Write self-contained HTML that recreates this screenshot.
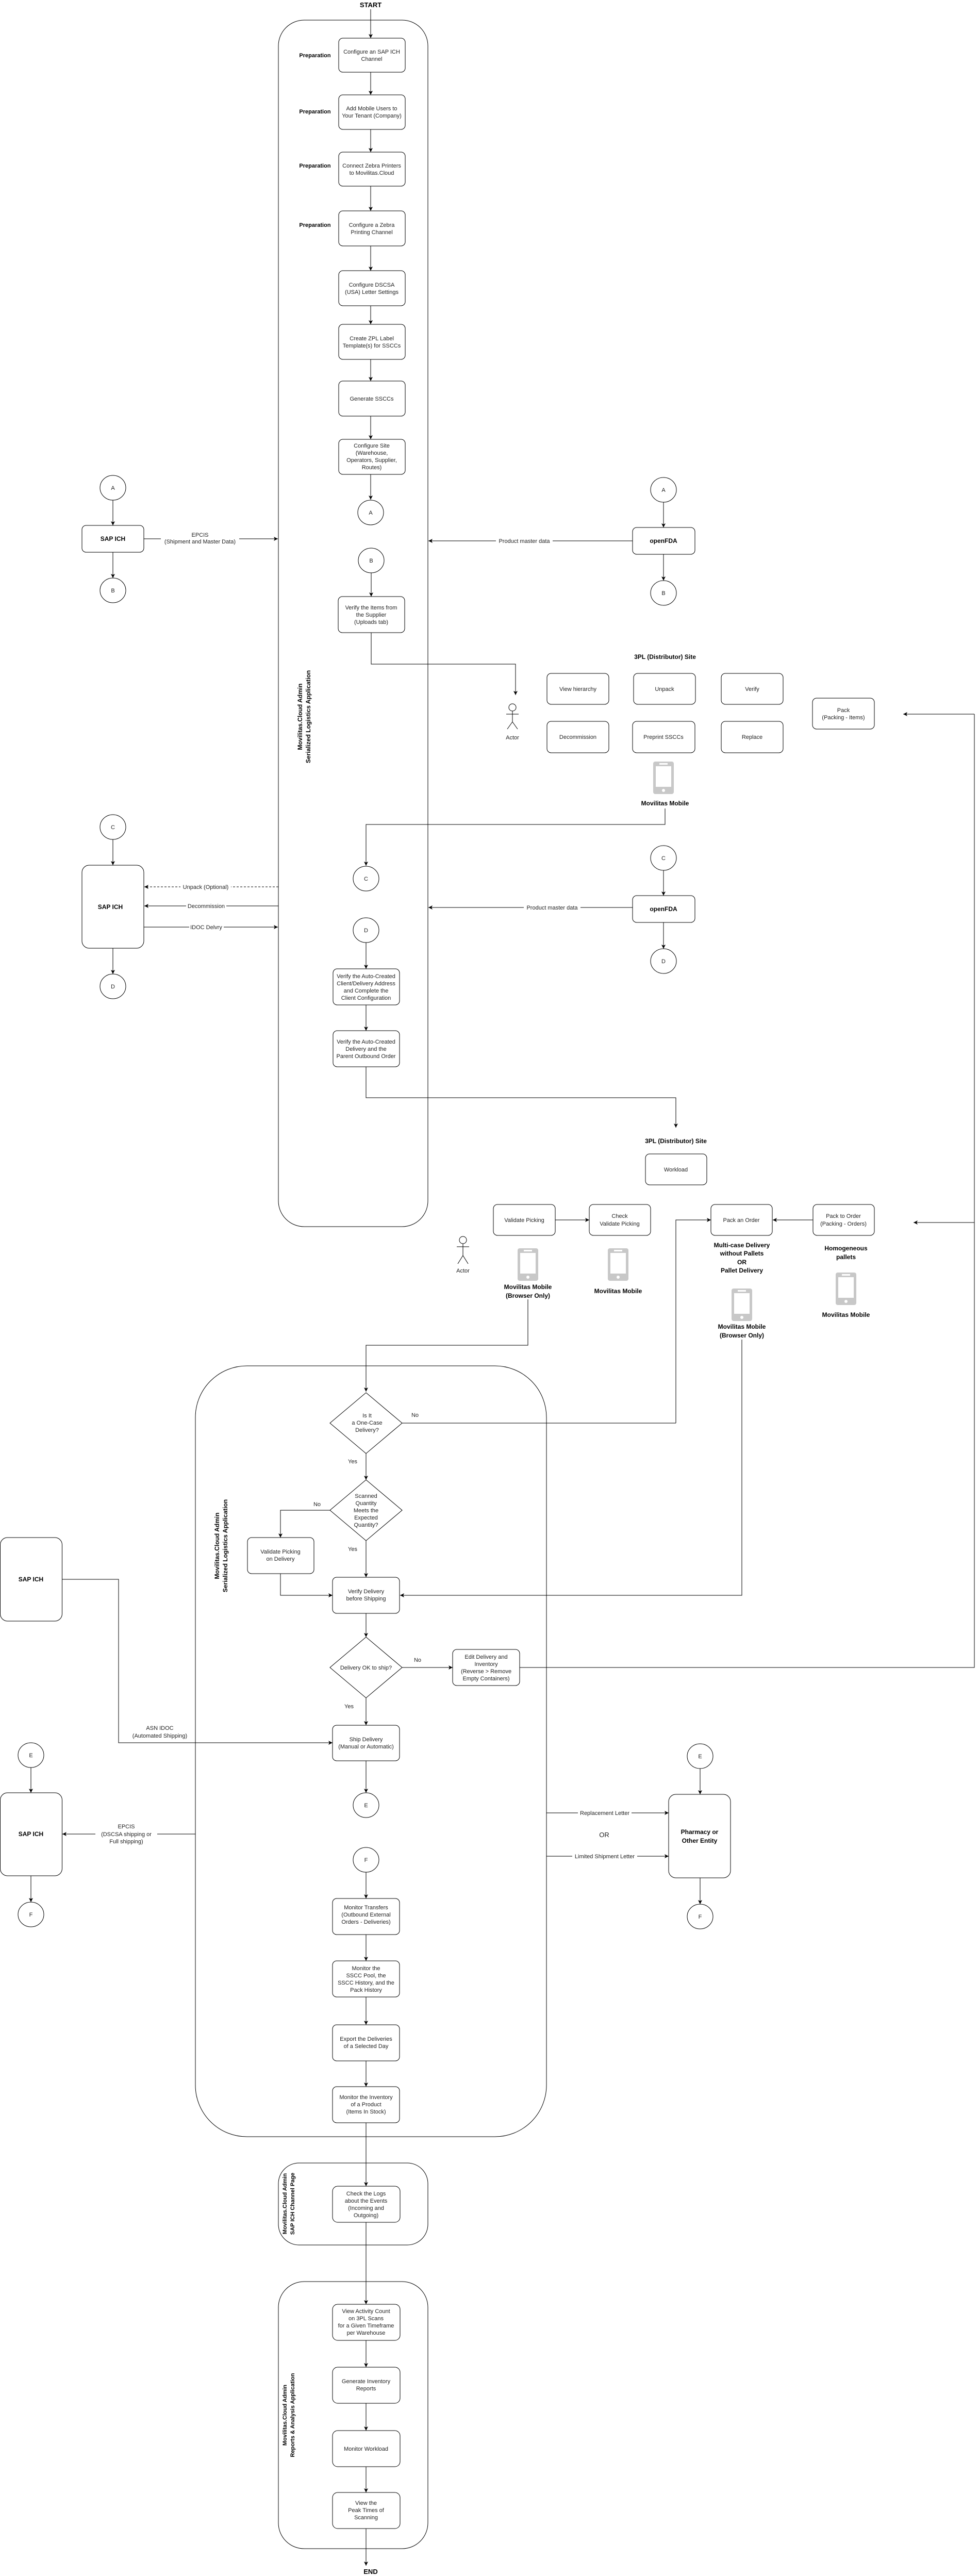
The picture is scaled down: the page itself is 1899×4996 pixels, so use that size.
<!DOCTYPE html>
<html><head><meta charset="utf-8"><style>
html,body{margin:0;padding:0;background:#fff}
svg{display:block}
text{font-family:"Liberation Sans",Arial,sans-serif;font-size:11px;fill:#222}
.b{font-weight:bold;font-size:12px;fill:#000}
.lbl{font-size:11px}
rect.n{fill:#fff;stroke:#000;stroke-width:1}
.l{fill:none;stroke:#000;stroke-width:1}
ellipse{fill:#fff;stroke:#000;stroke-width:1}
</style></head><body>
<svg width="1899" height="4996" viewBox="0 0 1899 4996" xmlns="http://www.w3.org/2000/svg">
<defs><marker id="a" markerWidth="10" markerHeight="10" refX="8" refY="4" orient="auto" markerUnits="userSpaceOnUse"><path d="M0,0 L8,4 L0,8 L2,4 z" fill="#000"/></marker>
<g id="ph"><rect x="-20" y="0" width="40" height="63" rx="4" fill="#c8c8c8"/><rect x="-15" y="9" width="30" height="40" fill="#fff"/><rect x="-8" y="3" width="16" height="3" fill="#fff"/><circle cx="0" cy="56" r="3" fill="#fff"/></g></defs>

<!-- lanes -->
<rect x="540" y="39" width="290" height="2340" rx="50" class="l"/>
<rect x="379" y="2649" width="681" height="1495" rx="100" class="l"/>
<rect x="540" y="4195" width="290" height="159" rx="40" class="l"/>
<rect x="540" y="4425" width="290" height="518" rx="50" class="l"/>

<text class="b" text-anchor="middle" transform="translate(586,1390) rotate(-90)">Movilitas.Cloud Admin</text>
<text class="b" text-anchor="middle" transform="translate(602,1390) rotate(-90)">Serialized Logistics Application</text>
<text class="b" text-anchor="middle" transform="translate(425,2998) rotate(-90)">Movilitas.Cloud Admin</text>
<text class="b" text-anchor="middle" transform="translate(441,2998) rotate(-90)">Serialized Logistics Application</text>
<text class="b" text-anchor="middle" style="font-size:11px" transform="translate(556,4274) rotate(-90)">Movilitas.Cloud Admin</text>
<text class="b" text-anchor="middle" style="font-size:11px" transform="translate(571,4274) rotate(-90)">SAP ICH Channel Page</text>
<text class="b" text-anchor="middle" style="font-size:11px" transform="translate(556,4684) rotate(-90)">Movilitas.Cloud Admin</text>
<text class="b" text-anchor="middle" style="font-size:11px" transform="translate(571,4684) rotate(-90)">Reports &amp; Analysis Application</text>

<text class="b" x="719" y="14" text-anchor="middle" style="font-size:13px">START</text>
<text class="b" x="719" y="4992" text-anchor="middle" style="font-size:13px">END</text>

<!-- top column boxes -->
<g>
<rect class="n" x="657" y="74" width="129" height="66" rx="8"/>
<text x="721" text-anchor="middle"><tspan x="721" y="104">Configure an SAP ICH</tspan><tspan x="721" y="118">Channel</tspan></text>
<rect class="n" x="657" y="184" width="129" height="67" rx="8"/>
<text text-anchor="middle"><tspan x="721" y="214">Add Mobile Users to</tspan><tspan x="721" y="228">Your Tenant (Company)</tspan></text>
<rect class="n" x="657" y="295" width="129" height="66" rx="8"/>
<text text-anchor="middle"><tspan x="721" y="325">Connect Zebra Printers</tspan><tspan x="721" y="339">to Movilitas.Cloud</tspan></text>
<rect class="n" x="657" y="409" width="129" height="68" rx="8"/>
<text text-anchor="middle"><tspan x="721" y="440">Configure a Zebra</tspan><tspan x="721" y="454">Printing Channel</tspan></text>
<rect class="n" x="657" y="525" width="129" height="68" rx="8"/>
<text text-anchor="middle"><tspan x="721" y="556">Configure DSCSA</tspan><tspan x="721" y="570">(USA) Letter Settings</tspan></text>
<rect class="n" x="657" y="629" width="129" height="68" rx="8"/>
<text text-anchor="middle"><tspan x="721" y="660">Create ZPL Label</tspan><tspan x="721" y="674">Template(s) for SSCCs</tspan></text>
<rect class="n" x="657" y="739" width="129" height="68" rx="8"/>
<text x="721" y="777" text-anchor="middle">Generate SSCCs</text>
<rect class="n" x="657" y="852" width="129" height="68" rx="8"/>
<text text-anchor="middle"><tspan x="721" y="868">Configure Site</tspan><tspan x="721" y="882">(Warehouse,</tspan><tspan x="721" y="896">Operators, Supplier,</tspan><tspan x="721" y="910">Routes)</tspan></text>
</g>
<g class="b" text-anchor="middle">
<text class="b" x="611" y="111" text-anchor="middle" style="font-size:11px">Preparation</text>
<text class="b" x="611" y="220" text-anchor="middle" style="font-size:11px">Preparation</text>
<text class="b" x="611" y="325" text-anchor="middle" style="font-size:11px">Preparation</text>
<text class="b" x="611" y="440" text-anchor="middle" style="font-size:11px">Preparation</text>
</g>
<g class="l" marker-end="url(#a)">
<path class="l" marker-end="url(#a)" d="M719,18V74"/>
<path class="l" marker-end="url(#a)" d="M719,140V184"/>
<path class="l" marker-end="url(#a)" d="M719,251V295"/>
<path class="l" marker-end="url(#a)" d="M719,361V409"/>
<path class="l" marker-end="url(#a)" d="M719,477V525"/>
<path class="l" marker-end="url(#a)" d="M719,593V629"/>
<path class="l" marker-end="url(#a)" d="M719,697V739"/>
<path class="l" marker-end="url(#a)" d="M719,807V852"/>
<path class="l" marker-end="url(#a)" d="M719,920V969"/>
</g>
<ellipse cx="719" cy="994" rx="25" ry="24"/><text x="719" y="998" text-anchor="middle">A</text>
<ellipse cx="720" cy="1087" rx="25" ry="24"/><text x="720" y="1091" text-anchor="middle">B</text>
<path class="l" marker-end="url(#a)" d="M720,1111V1157"/>
<rect class="n" x="656" y="1157" width="129" height="70" rx="8"/>
<text text-anchor="middle"><tspan x="720" y="1182">Verify the Items from</tspan><tspan x="720" y="1196">the Supplier</tspan><tspan x="720" y="1210">(Uploads tab)</tspan></text>
<path class="l" marker-end="url(#a)" d="M720,1227V1288H1000V1348"/>
<!-- actor1 -->
<g class="l"><circle cx="994" cy="1372" r="7"/><path d="M994,1379V1400M982,1385H1006M994,1400L984,1414M994,1400L1004,1414"/></g>
<text x="994" y="1434" text-anchor="middle">Actor</text>

<!-- left SAP ICH 1 -->
<ellipse cx="219" cy="946" rx="25" ry="24"/><text x="219" y="950" text-anchor="middle">A</text>
<path class="l" marker-end="url(#a)" d="M219,970V1019"/>
<rect class="n" x="159" y="1019" width="120" height="52" rx="8"/><text class="b" x="219" y="1049" text-anchor="middle">SAP ICH</text>
<path class="l" marker-end="url(#a)" d="M219,1071V1121"/>
<ellipse cx="219" cy="1145" rx="25" ry="24"/><text x="219" y="1149" text-anchor="middle">B</text>
<path class="l" marker-end="url(#a)" d="M279,1045H539"/>
<rect x="312" y="1029" width="152" height="28" fill="#fff"/>
<text text-anchor="middle"><tspan x="388" y="1041">EPCIS</tspan><tspan x="388" y="1054">(Shipment and Master Data)</tspan></text>

<!-- right openFDA 1 -->
<ellipse cx="1287" cy="950" rx="25" ry="24"/><text x="1287" y="954" text-anchor="middle">A</text>
<path class="l" marker-end="url(#a)" d="M1287,974V1023"/>
<rect class="n" x="1227" y="1023" width="121" height="52" rx="8"/><text class="b" x="1287" y="1053" text-anchor="middle">openFDA</text>
<path class="l" marker-end="url(#a)" d="M1287,1075V1126"/>
<ellipse cx="1287" cy="1150" rx="25" ry="24"/><text x="1287" y="1154" text-anchor="middle">B</text>
<path class="l" marker-end="url(#a)" d="M1227,1049H831"/>
<rect x="962" y="1042" width="110" height="14" fill="#fff"/>
<text x="1017" y="1053" text-anchor="middle">Product master data</text>

<!-- 3PL site 1 -->
<text class="b" x="1290" y="1278" text-anchor="middle">3PL (Distributor) Site</text>
<rect class="n" x="1061" y="1306" width="120" height="60" rx="8"/><text x="1121" y="1340" text-anchor="middle">View hierarchy</text>
<rect class="n" x="1229" y="1306" width="120" height="60" rx="8"/><text x="1289" y="1340" text-anchor="middle">Unpack</text>
<rect class="n" x="1399" y="1306" width="120" height="60" rx="8"/><text x="1459" y="1340" text-anchor="middle">Verify</text>
<rect class="n" x="1061" y="1399" width="120" height="61" rx="8"/><text x="1121" y="1433" text-anchor="middle">Decommission</text>
<rect class="n" x="1227" y="1399" width="121" height="61" rx="8"/><text x="1287" y="1433" text-anchor="middle">Preprint SSCCs</text>
<rect class="n" x="1399" y="1399" width="120" height="61" rx="8"/><text x="1459" y="1433" text-anchor="middle">Replace</text>
<rect class="n" x="1576" y="1354" width="120" height="60" rx="8"/>
<text text-anchor="middle"><tspan x="1636" y="1381">Pack</tspan><tspan x="1636" y="1395">(Packing - Items)</tspan></text>
<path class="l" d="M1890,1385V3234H1008"/>
<path class="l" marker-end="url(#a)" d="M1890,1385H1752"/>
<path class="l" marker-end="url(#a)" d="M1890,2371H1772"/>
<use href="#ph" x="1287" y="1477"/>
<text class="b" x="1290" y="1562" text-anchor="middle">Movilitas Mobile</text>
<path class="l" marker-end="url(#a)" d="M1290,1568V1599H710V1679"/>

<!-- lane middle C D -->
<ellipse cx="710" cy="1704" rx="25" ry="24"/><text x="710" y="1708" text-anchor="middle">C</text>
<ellipse cx="710" cy="1804" rx="25" ry="24"/><text x="710" y="1808" text-anchor="middle">D</text>
<path class="l" marker-end="url(#a)" d="M710,1828V1879"/>
<rect class="n" x="646" y="1879" width="129" height="70" rx="8"/>
<text text-anchor="middle"><tspan x="710" y="1897">Verify the Auto-Created</tspan><tspan x="710" y="1911">Client/Delivery Address</tspan><tspan x="710" y="1925">and Complete the</tspan><tspan x="710" y="1939">Client Configuration</tspan></text>
<path class="l" marker-end="url(#a)" d="M710,1949V1999"/>
<rect class="n" x="646" y="1999" width="129" height="70" rx="8"/>
<text text-anchor="middle"><tspan x="710" y="2024">Verify the Auto-Created</tspan><tspan x="710" y="2038">Delivery and the</tspan><tspan x="710" y="2052">Parent Outbound Order</tspan></text>
<path class="l" marker-end="url(#a)" d="M710,2069V2129H1311V2187"/>

<!-- left SAP ICH 2 -->
<ellipse cx="219" cy="1604" rx="25" ry="24"/><text x="219" y="1608" text-anchor="middle">C</text>
<path class="l" marker-end="url(#a)" d="M219,1628V1678"/>
<rect class="n" x="159" y="1678" width="120" height="161" rx="14"/><text class="b" x="214" y="1763" text-anchor="middle">SAP ICH</text>
<path class="l" marker-end="url(#a)" d="M219,1839V1889"/>
<ellipse cx="219" cy="1913" rx="25" ry="24"/><text x="219" y="1917" text-anchor="middle">D</text>
<path class="l" marker-end="url(#a)" d="M540,1720H280" stroke-dasharray="4,3"/>
<path class="l" marker-end="url(#a)" d="M540,1757H280"/>
<path class="l" marker-end="url(#a)" d="M279,1798H539"/>
<rect x="350" y="1713" width="98" height="14" fill="#fff"/><text x="399" y="1724" text-anchor="middle">Unpack (Optional)</text>
<rect x="361" y="1750" width="78" height="14" fill="#fff"/><text x="400" y="1761" text-anchor="middle">Decommission</text>
<rect x="367" y="1791" width="67" height="14" fill="#fff"/><text x="400" y="1802" text-anchor="middle">IDOC Delvry</text>

<!-- right openFDA 2 -->
<ellipse cx="1287" cy="1664" rx="25" ry="24"/><text x="1287" y="1668" text-anchor="middle">C</text>
<path class="l" marker-end="url(#a)" d="M1287,1688V1737"/>
<rect class="n" x="1227" y="1737" width="121" height="52" rx="8"/><text class="b" x="1287" y="1767" text-anchor="middle">openFDA</text>
<path class="l" marker-end="url(#a)" d="M1287,1789V1840"/>
<ellipse cx="1287" cy="1864" rx="25" ry="24"/><text x="1287" y="1868" text-anchor="middle">D</text>
<path class="l" marker-end="url(#a)" d="M1227,1760H831"/>
<rect x="1016" y="1753" width="110" height="14" fill="#fff"/>
<text x="1071" y="1764" text-anchor="middle">Product master data</text>

<!-- 3PL site 2 -->
<text class="b" x="1311" y="2217" text-anchor="middle">3PL (Distributor) Site</text>
<rect class="n" x="1252" y="2238" width="119" height="60" rx="8"/><text x="1311" y="2272" text-anchor="middle">Workload</text>
<rect class="n" x="957" y="2336" width="120" height="60" rx="8"/><text x="1017" y="2370" text-anchor="middle">Validate Picking</text>
<path class="l" marker-end="url(#a)" d="M1077,2366H1143"/>
<rect class="n" x="1143" y="2336" width="119" height="60" rx="8"/>
<text text-anchor="middle"><tspan x="1202" y="2362">Check</tspan><tspan x="1202" y="2377">Validate Picking</tspan></text>
<rect class="n" x="1379" y="2336" width="119" height="60" rx="8"/><text x="1438" y="2370" text-anchor="middle">Pack an Order</text>
<rect class="n" x="1577" y="2336" width="119" height="60" rx="8"/>
<text text-anchor="middle"><tspan x="1636" y="2362">Pack to Order</tspan><tspan x="1636" y="2377">(Packing - Orders)</tspan></text>
<path class="l" marker-end="url(#a)" d="M1577,2366H1499"/>
<path class="l" marker-end="url(#a)" d="M1311,2760V2366H1379"/>
<g class="l"><circle cx="898" cy="2405" r="7"/><path d="M898,2412V2435M886,2418H910M898,2435L888,2451M898,2435L908,2451"/></g>
<text x="898" y="2468" text-anchor="middle">Actor</text>
<use href="#ph" x="1024" y="2421"/>
<text class="b" text-anchor="middle"><tspan x="1024" y="2500">Movilitas Mobile</tspan><tspan x="1024" y="2517">(Browser Only)</tspan></text>
<use href="#ph" x="1199" y="2421"/>
<text class="b" x="1199" y="2508" text-anchor="middle">Movilitas Mobile</text>
<text class="b" text-anchor="middle"><tspan x="1439" y="2419">Multi-case Delivery</tspan><tspan x="1439" y="2435">without Pallets</tspan><tspan x="1439" y="2452">OR</tspan><tspan x="1439" y="2468">Pallet Delivery</tspan></text>
<use href="#ph" x="1439" y="2499"/>
<text class="b" text-anchor="middle"><tspan x="1439" y="2577">Movilitas Mobile</tspan><tspan x="1439" y="2594">(Browser Only)</tspan></text>
<text class="b" text-anchor="middle"><tspan x="1641" y="2425">Homogeneous</tspan><tspan x="1641" y="2442">pallets</tspan></text>
<use href="#ph" x="1641" y="2468"/>
<text class="b" x="1641" y="2554" text-anchor="middle">Movilitas Mobile</text>
<path class="l" marker-end="url(#a)" d="M1024,2520V2609H710V2699"/>
<path class="l" marker-end="url(#a)" d="M1439,2598V3094H776"/>

<!-- lane2 flow -->
<path class="l" fill="#fff" d="M710,2701L780,2760L710,2819L640,2760Z" style="fill:#fff"/>
<text text-anchor="middle"><tspan x="712" y="2749">Is It</tspan><tspan x="712" y="2763">a One-Case</tspan><tspan x="712" y="2777">Delivery?</tspan></text>
<text x="805" y="2748" text-anchor="middle">No</text>
<path class="l" d="M780,2760H1311"/>
<text x="684" y="2838" text-anchor="middle">Yes</text>
<path class="l" marker-end="url(#a)" d="M710,2819V2870"/>
<path class="l" d="M710,2870L780,2929L710,2988L640,2929Z" style="fill:#fff"/>
<text text-anchor="middle"><tspan x="710" y="2905">Scanned</tspan><tspan x="710" y="2919">Quantity</tspan><tspan x="710" y="2933">Meets the</tspan><tspan x="710" y="2947">Expected</tspan><tspan x="710" y="2961">Quantity?</tspan></text>
<text x="615" y="2921" text-anchor="middle">No</text>
<path class="l" marker-end="url(#a)" d="M640,2929H544V2982"/>
<rect class="n" x="480" y="2982" width="129" height="70" rx="8"/>
<text text-anchor="middle"><tspan x="544" y="3013">Validate Picking</tspan><tspan x="544" y="3027">on Delivery</tspan></text>
<path class="l" marker-end="url(#a)" d="M544,3052V3094H645"/>
<text x="684" y="3008" text-anchor="middle">Yes</text>
<path class="l" marker-end="url(#a)" d="M710,2988V3059"/>
<rect class="n" x="645" y="3059" width="130" height="70" rx="8"/>
<text text-anchor="middle"><tspan x="710" y="3090">Verify Delivery</tspan><tspan x="710" y="3104">before Shipping</tspan></text>
<path class="l" marker-end="url(#a)" d="M710,3129V3175"/>
<path class="l" d="M710,3175L780,3234L710,3293L640,3234Z" style="fill:#fff"/>
<text x="710" y="3238" text-anchor="middle">Delivery OK to ship?</text>
<text x="810" y="3223" text-anchor="middle">No</text>
<path class="l" marker-end="url(#a)" d="M780,3234H878"/>
<rect class="n" x="878" y="3199" width="130" height="70" rx="8"/>
<text text-anchor="middle"><tspan x="943" y="3217">Edit Delivery and</tspan><tspan x="943" y="3231">Inventory</tspan><tspan x="943" y="3245">(Reverse &gt; Remove</tspan><tspan x="943" y="3259">Empty Containers)</tspan></text>
<text x="677" y="3313" text-anchor="middle">Yes</text>
<path class="l" marker-end="url(#a)" d="M710,3293V3346"/>
<rect class="n" x="645" y="3346" width="130" height="69" rx="8"/>
<text text-anchor="middle"><tspan x="710" y="3377">Ship Delivery</tspan><tspan x="710" y="3391">(Manual or Automatic)</tspan></text>
<path class="l" marker-end="url(#a)" d="M710,3415V3477"/>
<ellipse cx="710" cy="3501" rx="25" ry="24"/><text x="710" y="3505" text-anchor="middle">E</text>
<ellipse cx="710" cy="3607" rx="25" ry="24"/><text x="710" y="3611" text-anchor="middle">F</text>
<path class="l" marker-end="url(#a)" d="M710,3631V3682"/>
<rect class="n" x="645" y="3682" width="130" height="70" rx="8"/>
<text text-anchor="middle"><tspan x="710" y="3703">Monitor Transfers</tspan><tspan x="710" y="3717">(Outbound External</tspan><tspan x="710" y="3731">Orders - Deliveries)</tspan></text>
<path class="l" marker-end="url(#a)" d="M710,3752V3803"/>
<rect class="n" x="645" y="3803" width="130" height="70" rx="8"/>
<text text-anchor="middle"><tspan x="710" y="3821">Monitor the</tspan><tspan x="710" y="3835">SSCC Pool, the</tspan><tspan x="710" y="3849">SSCC History, and the</tspan><tspan x="710" y="3863">Pack History</tspan></text>
<path class="l" marker-end="url(#a)" d="M710,3873V3927"/>
<rect class="n" x="645" y="3927" width="130" height="70" rx="8"/>
<text text-anchor="middle"><tspan x="710" y="3958">Export the Deliveries</tspan><tspan x="710" y="3972">of a Selected Day</tspan></text>
<path class="l" marker-end="url(#a)" d="M710,3997V4047"/>
<rect class="n" x="645" y="4047" width="130" height="70" rx="8"/>
<text text-anchor="middle"><tspan x="710" y="4071">Monitor the Inventory</tspan><tspan x="710" y="4085">of a Product</tspan><tspan x="710" y="4099">(Items In Stock)</tspan></text>
<path class="l" marker-end="url(#a)" d="M710,4117V4240"/>

<!-- left SAP ICH 3 -->
<rect class="n" x="0.5" y="2982" width="120" height="162" rx="14"/><text class="b" x="60" y="3067" text-anchor="middle">SAP ICH</text>
<path class="l" marker-end="url(#a)" d="M120,3063H230V3380H645"/>
<text text-anchor="middle"><tspan x="310" y="3355">ASN IDOC</tspan><tspan x="310" y="3370">(Automated Shipping)</tspan></text>
<!-- left SAP ICH 4 -->
<ellipse cx="60" cy="3404" rx="25" ry="24"/><text x="60" y="3408" text-anchor="middle">E</text>
<path class="l" marker-end="url(#a)" d="M60,3428V3477"/>
<rect class="n" x="0.5" y="3477" width="120" height="161" rx="14"/><text class="b" x="60" y="3561" text-anchor="middle">SAP ICH</text>
<path class="l" marker-end="url(#a)" d="M60,3638V3689"/>
<ellipse cx="60" cy="3713" rx="25" ry="24"/><text x="60" y="3717" text-anchor="middle">F</text>
<path class="l" marker-end="url(#a)" d="M379,3557H121"/>
<rect x="185" y="3535" width="120" height="42" fill="#fff"/>
<text text-anchor="middle"><tspan x="245" y="3546">EPCIS</tspan><tspan x="245" y="3561">(DSCSA shipping or</tspan><tspan x="245" y="3575">Full shipping)</tspan></text>
<!-- right pharmacy -->
<ellipse cx="1358" cy="3406" rx="25" ry="24"/><text x="1358" y="3410" text-anchor="middle">E</text>
<path class="l" marker-end="url(#a)" d="M1358,3430V3480"/>
<rect class="n" x="1297" y="3480" width="120" height="162" rx="14"/>
<text class="b" text-anchor="middle"><tspan x="1357" y="3557">Pharmacy or</tspan><tspan x="1357" y="3574">Other Entity</tspan></text>
<path class="l" marker-end="url(#a)" d="M1358,3642V3693"/>
<ellipse cx="1358" cy="3717" rx="25" ry="24"/><text x="1358" y="3721" text-anchor="middle">F</text>
<path class="l" marker-end="url(#a)" d="M1060,3516H1297"/>
<path class="l" marker-end="url(#a)" d="M1060,3600H1297"/>
<rect x="1121" y="3509" width="104" height="14" fill="#fff"/><text x="1173" y="3520" text-anchor="middle">Replacement Letter</text>
<rect x="1110" y="3593" width="126" height="14" fill="#fff"/><text x="1173" y="3604" text-anchor="middle">Limited Shipment Letter</text>
<text x="1172" y="3563" text-anchor="middle" style="font-size:13px">OR</text>

<!-- lane3 -->
<rect class="n" x="645" y="4240" width="131" height="70" rx="10"/>
<text text-anchor="middle"><tspan x="710" y="4258">Check the Logs</tspan><tspan x="710" y="4272">about the Events</tspan><tspan x="710" y="4286">(Incoming and</tspan><tspan x="710" y="4300">Outgoing)</tspan></text>
<path class="l" marker-end="url(#a)" d="M710,4310V4469"/>
<!-- lane4 -->
<rect class="n" x="645" y="4469" width="131" height="70" rx="10"/>
<text text-anchor="middle"><tspan x="710" y="4486">View Activity Count</tspan><tspan x="710" y="4500">on 3PL Scans</tspan><tspan x="710" y="4514">for a Given Timeframe</tspan><tspan x="710" y="4528">per Warehouse</tspan></text>
<path class="l" marker-end="url(#a)" d="M710,4539V4591"/>
<rect class="n" x="645" y="4591" width="131" height="70" rx="10"/>
<text text-anchor="middle"><tspan x="710" y="4622">Generate Inventory</tspan><tspan x="710" y="4636">Reports</tspan></text>
<path class="l" marker-end="url(#a)" d="M710,4661V4714"/>
<rect class="n" x="645" y="4714" width="131" height="70" rx="10"/>
<text x="710" y="4753" text-anchor="middle">Monitor Workload</text>
<path class="l" marker-end="url(#a)" d="M710,4784V4834"/>
<rect class="n" x="645" y="4834" width="131" height="70" rx="10"/>
<text text-anchor="middle"><tspan x="710" y="4858">View the</tspan><tspan x="710" y="4872">Peak Times of</tspan><tspan x="710" y="4886">Scanning</tspan></text>
<path class="l" marker-end="url(#a)" d="M710,4904V4976"/>
</svg>
</body></html>
